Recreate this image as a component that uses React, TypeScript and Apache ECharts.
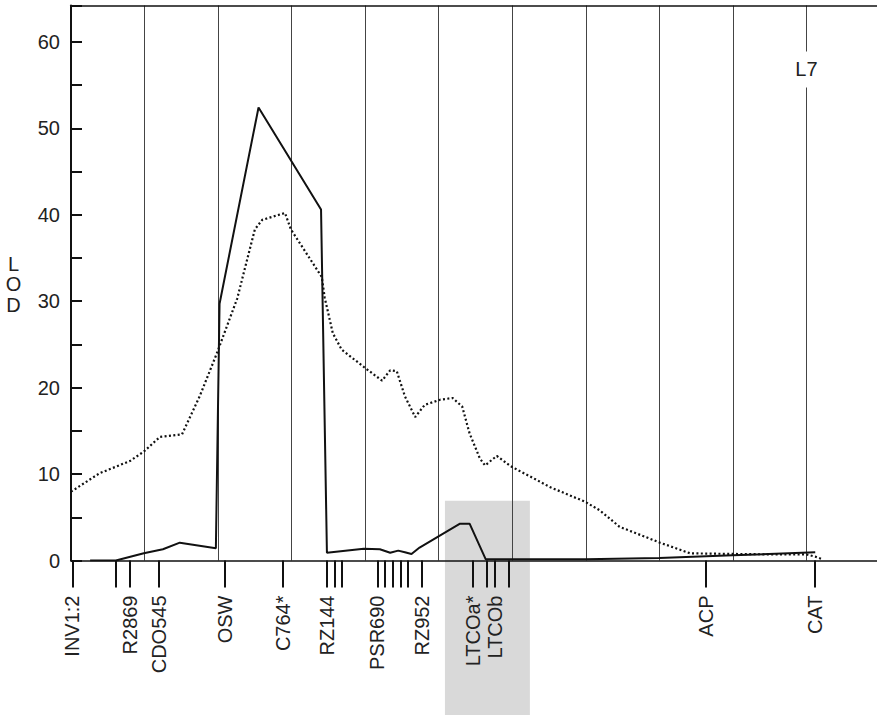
import React, { useEffect, useRef } from 'react';
import * as echarts from 'echarts';

// Position along the linkage group (arbitrary units, grid every 10)
const solidX = [2.6, 6.1, 9.9, 12.5, 14.8, 19.7, 20.2, 25.5, 34.0, 34.8, 39.8, 42.0, 43.4, 44.5, 45.4, 46.3, 47.4, 52.9, 54.2, 56.4, 70, 80, 90, 101.2];
const solidY = [0, 0, 0.83, 1.3, 2.06, 1.41, 29.7, 52.4, 40.6, 0.9, 1.37, 1.3, 0.9, 1.14, 0.96, 0.75, 1.5, 4.26, 4.26, 0.14, 0.15, 0.3, 0.6, 0.95];

const dottedX = [0, 3.9, 8.0, 9.9, 12.1, 15.1, 17.5, 19.85, 22.6, 25.0, 26.0, 29.1, 29.9, 34.1, 34.5, 35.6, 36.8, 39.8, 42.3, 43.4, 44.3, 45.4, 46.8, 48.1, 50.2, 51.9, 53.2, 54.2, 55.6, 56.3, 57.9, 59.8, 63.8, 65.1, 69.9, 71.9, 74.6, 80.1, 84.2, 88.3, 93.7, 100, 101.2, 102.2];
const dottedY = [7.96, 10.1, 11.5, 12.6, 14.3, 14.6, 19.0, 24.0, 30.3, 38.3, 39.4, 40.2, 38.3, 32.8, 30.4, 26.3, 24.4, 22.4, 20.8, 22.0, 21.9, 19.0, 16.6, 18.0, 18.6, 18.8, 17.8, 14.7, 11.8, 11.0, 12.1, 10.9, 9.1, 8.5, 6.8, 5.8, 3.9, 2.06, 0.83, 0.78, 0.72, 0.7, 0.45, 0.14];

const markerPos = [0.2, 6.08, 8.02, 11.96, 20.94, 28.86, 34.77, 35.8, 36.85, 41.67, 42.72, 43.78, 44.8, 45.85, 47.75, 54.66, 56.56, 57.61, 59.58, 86.3, 101.16];
const markerNames = ['INV1:2', '', 'R2869', 'CDO545', 'OSW', 'C764*', 'RZ144', '', '', 'PSR690', '', '', '', '', 'RZ952', 'LTCOa*', '', 'LTCOb', '', 'ACP', 'CAT'];

const yTicks = [0, 10, 20, 30, 40, 50, 60];
const yName = 'LOD';
const groupLabel = 'L7';
const groupLabelPos = [100, 56.8];
const shadeX = [50.85, 62.4];
const shadeTop = 6.9;

const X_MIN = 0;
const X_MAX = 109.6;
const Y_MAX = 64.2;
const FONT = '"Liberation Sans", Arial, Helvetica, sans-serif';

export default function App() {
  const ref = useRef<HTMLDivElement>(null);
  useEffect(() => {
    const chart = echarts.init(ref.current!, null, { renderer: 'svg' });
    const labeled = markerPos.filter((_, i) => markerNames[i] !== '');
    const nameOf = (v: number) => {
      let best = '';
      let d = Infinity;
      markerPos.forEach((p, i) => {
        if (markerNames[i] && Math.abs(p - v) < d) {
          d = Math.abs(p - v);
          best = markerNames[i];
        }
      });
      return best;
    };
    chart.setOption({
      animation: false,
      grid: { left: 71, right: 0, top: 5.5, bottom: 154.5, containLabel: false },
      xAxis: [
        {
          type: 'value', min: X_MIN, max: X_MAX, interval: 10, position: 'bottom',
          axisLine: { show: true, onZero: false, lineStyle: { color: '#111', width: 1.5 } },
          axisTick: { show: false }, axisLabel: { show: false },
          splitLine: { show: true, lineStyle: { color: '#444', width: 1 } },
        },
        {
          type: 'value', min: X_MIN, max: X_MAX, position: 'bottom',
          axisLine: { show: false, onZero: false },
          axisTick: { show: true, customValues: markerPos, length: 27, inside: false, lineStyle: { color: '#111', width: 2 } },
          axisLabel: {
            show: true, customValues: labeled, rotate: 90, margin: 35,
            formatter: (v: number) => nameOf(v),
            fontSize: 20, color: '#222', fontFamily: FONT,
          },
          splitLine: { show: false },
        },
        {
          type: 'value', min: X_MIN, max: X_MAX, position: 'top',
          axisLine: { show: true, onZero: false, lineStyle: { color: '#111', width: 1.5 } },
          axisTick: { show: false }, axisLabel: { show: false }, splitLine: { show: false },
        },
      ],
      yAxis: {
        type: 'value', min: 0, max: Y_MAX, interval: 5,
        axisLine: { show: true, onZero: false, lineStyle: { color: '#111', width: 2 } },
        axisTick: { show: true, inside: true, length: 11, lineStyle: { color: '#111', width: 2 } },
        axisLabel: {
          formatter: (v: number) => (yTicks.includes(v) ? String(v) : ''),
          fontSize: 20, color: '#222', fontFamily: FONT, margin: 11,
        },
        splitLine: { show: false },
      },
      series: [
        {
          type: 'line', xAxisIndex: 0, yAxisIndex: 0, symbol: 'none',
          data: solidX.map((x, i) => [x, solidY[i]]),
          lineStyle: { color: '#111', width: 2 }, z: 5,
        },
        {
          type: 'line', xAxisIndex: 0, yAxisIndex: 0, symbol: 'none',
          data: dottedX.map((x, i) => [x, dottedY[i]]),
          lineStyle: { color: '#111', width: 2.2, type: [2, 2.4] }, z: 5,
        },
      ],
    });
    const f = { xAxisIndex: 0, yAxisIndex: 0 };
    const p0 = chart.convertToPixel(f, [shadeX[0], shadeTop]) as number[];
    const p1 = chart.convertToPixel(f, [shadeX[1], 0]) as number[];
    const pl = chart.convertToPixel(f, groupLabelPos) as number[];
    chart.setOption({
      graphic: [
        {
          type: 'rect', z: -10,
          shape: { x: p0[0], y: p0[1], width: p1[0] - p0[0], height: 715 - p0[1] },
          style: { fill: '#d9d9d9' },
        },
        {
          type: 'text', z: 10, x: pl[0], y: pl[1],
          style: {
            text: groupLabel, align: 'center', verticalAlign: 'middle',
            fontSize: 20, fill: '#222', fontFamily: FONT,
            backgroundColor: '#fff', padding: [8, 2],
          },
        },
        {
          type: 'text', z: 10, x: 13.5, y: 284,
          style: {
            text: yName.split('').join('\n'), align: 'center', verticalAlign: 'middle',
            fontSize: 20, lineHeight: 20.5, fill: '#222', fontFamily: FONT,
          },
        },
      ],
    });
    return () => chart.dispose();
  }, []);
  return <div ref={ref} style={{ position: 'absolute', left: 0, top: 0, width: 877, height: 715 }} />;
}
